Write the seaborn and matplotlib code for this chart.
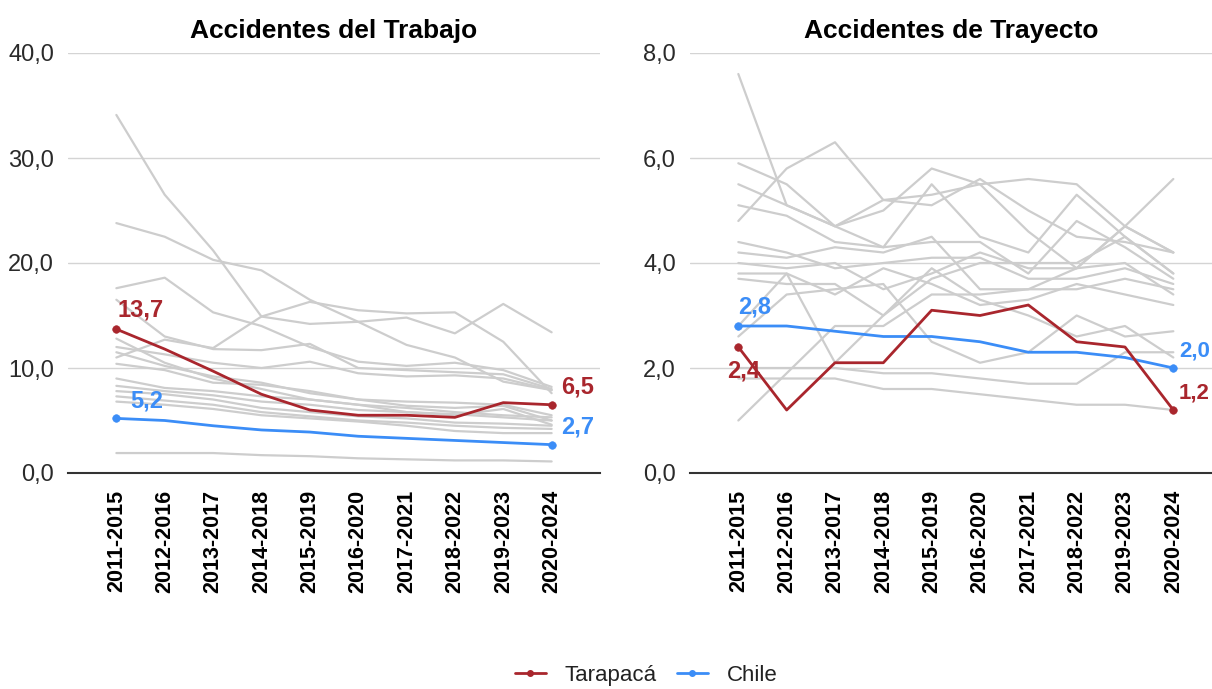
import numpy as np
import pandas as pd
import matplotlib
matplotlib.use('Agg')
import matplotlib.pyplot as plt
from matplotlib.lines import Line2D
from matplotlib.ticker import FuncFormatter
import seaborn as sns

sns.set_style('white')
plt.rcParams['font.family'] = ['Liberation Sans', 'DejaVu Sans']
plt.rcParams['text.color'] = '#000000'

periodos = ['2011-2015', '2012-2016', '2013-2017', '2014-2018', '2015-2019',
            '2016-2020', '2017-2021', '2018-2022', '2019-2023', '2020-2024']

# Accidentes del Trabajo
trabajo_tarapaca = [13.7, 11.8, 9.7, 7.5, 6.0, 5.5, 5.5, 5.3, 6.7, 6.5]
trabajo_chile = [5.2, 5.0, 4.5, 4.1, 3.9, 3.5, 3.3, 3.1, 2.9, 2.7]
trabajo_otras = [
    [34.1, 26.5, 21.2, 14.9, 14.2, 14.4, 14.8, 13.3, 16.1, 13.4],
    [23.8, 22.5, 20.3, 19.3, 16.5, 14.4, 12.2, 11.0, 8.7, 7.9],
    [17.6, 18.6, 15.3, 14.0, 12.0, 10.6, 10.2, 10.5, 9.8, 8.2],
    [11.0, 12.7, 11.9, 14.9, 16.3, 15.5, 15.2, 15.3, 12.5, 7.6],
    [16.5, 13.0, 11.8, 11.7, 12.3, 10.0, 9.8, 9.6, 9.4, 8.0],
    [12.0, 11.3, 10.5, 10.0, 10.6, 9.5, 9.2, 9.3, 9.0, 7.9],
    [11.5, 10.2, 9.2, 8.6, 7.6, 7.0, 6.8, 6.7, 6.5, 5.5],
    [10.4, 9.8, 8.6, 8.4, 7.8, 7.0, 6.4, 6.2, 6.4, 5.0],
    [9.0, 8.1, 7.8, 7.3, 7.0, 6.5, 6.2, 5.8, 5.5, 5.3],
    [8.3, 7.8, 7.4, 6.8, 6.5, 6.0, 5.8, 5.6, 5.3, 5.0],
    [7.8, 7.5, 7.0, 6.2, 5.8, 5.4, 5.2, 4.8, 4.7, 4.5],
    [7.3, 6.9, 6.5, 5.8, 5.4, 5.0, 4.8, 4.5, 4.3, 4.2],
    [6.8, 6.5, 6.1, 5.5, 5.2, 4.9, 4.5, 4.0, 3.8, 3.8],
    [12.8, 10.5, 9.0, 8.0, 7.0, 6.5, 5.8, 5.5, 6.1, 4.6],
    [1.9, 1.9, 1.9, 1.7, 1.6, 1.4, 1.3, 1.2, 1.2, 1.1],
]

# Accidentes de Trayecto
trayecto_tarapaca = [2.4, 1.2, 2.1, 2.1, 3.1, 3.0, 3.2, 2.5, 2.4, 1.2]
trayecto_chile = [2.8, 2.8, 2.7, 2.6, 2.6, 2.5, 2.3, 2.3, 2.2, 2.0]
trayecto_otras = [
    [7.6, 5.1, 4.7, 5.2, 5.1, 5.6, 5.0, 4.5, 4.4, 4.2],
    [4.8, 5.8, 6.3, 5.2, 5.3, 5.5, 5.6, 5.5, 4.7, 4.2],
    [5.9, 5.5, 4.7, 5.0, 5.8, 5.5, 4.6, 3.9, 4.7, 4.2],
    [5.5, 5.1, 4.7, 4.3, 5.5, 4.5, 4.2, 5.3, 4.5, 3.8],
    [5.1, 4.9, 4.4, 4.3, 4.4, 4.4, 3.8, 4.8, 4.3, 3.7],
    [4.4, 4.2, 3.9, 4.0, 4.1, 4.1, 3.7, 3.7, 3.9, 3.6],
    [4.2, 4.1, 4.3, 4.2, 4.5, 3.5, 3.5, 3.5, 3.7, 3.5],
    [4.0, 3.9, 4.0, 3.5, 3.8, 4.2, 3.9, 3.9, 4.0, 3.4],
    [3.8, 3.8, 3.4, 3.9, 3.6, 3.2, 3.3, 3.6, 3.4, 3.2],
    [3.7, 3.6, 3.6, 3.0, 3.9, 3.3, 3.0, 2.6, 2.8, 2.2],
    [2.6, 3.4, 3.5, 3.6, 2.5, 2.1, 2.3, 3.0, 2.6, 2.7],
    [2.8, 3.8, 2.1, 3.0, 3.7, 4.0, 4.0, 4.0, 4.5, 3.8],
    [1.8, 1.8, 1.8, 1.6, 1.6, 1.5, 1.4, 1.3, 1.3, 1.2],
    [2.0, 2.0, 2.0, 1.9, 1.9, 1.8, 1.7, 1.7, 2.3, 2.3],
    [1.0, 1.9, 2.8, 2.8, 3.4, 3.4, 3.5, 3.9, 4.7, 5.6],
]

rojo = '#A9262D'
azul = '#3B8DF7'
gris = '#CDCDCD'


def a_tabla(series):
    filas = []
    for i, s in enumerate(series):
        for j, v in enumerate(s):
            filas.append({'region': i, 'x': j, 'valor': v})
    return pd.DataFrame(filas)


def coma(v, pos=None):
    return f'{v:.1f}'.replace('.', ',')


fig = plt.figure(figsize=(12.12, 6.89), dpi=100)
ax1 = fig.add_axes([68 / 1212, 216 / 689, 532 / 1212, 420 / 689])
ax2 = fig.add_axes([690 / 1212, 216 / 689, 522 / 1212, 420 / 689])

paneles = [
    (ax1, 'Accidentes del Trabajo', trabajo_otras, trabajo_tarapaca, trabajo_chile, 40, 10, (-1, 10)),
    (ax2, 'Accidentes de Trayecto', trayecto_otras, trayecto_tarapaca, trayecto_chile, 8, 2, (-1, 9.8)),
]

for ax, titulo, otras, tara, chile, ymax, paso, xl in paneles:
    df = a_tabla(otras)
    sns.lineplot(data=df, x='x', y='valor', units='region', estimator=None,
                 color=gris, linewidth=1.6, ax=ax, legend=False)
    for serie, color in [(chile, azul), (tara, rojo)]:
        d = pd.DataFrame({'x': range(len(serie)), 'valor': serie})
        sns.lineplot(data=d, x='x', y='valor', color=color, linewidth=2, ax=ax)
        ext = d.iloc[[0, -1]]
        sns.scatterplot(data=ext, x='x', y='valor', color=color, s=30,
                        edgecolor=color, ax=ax, zorder=5)

    ax.set_xlim(*xl)
    ax.set_ylim(0, ymax)
    ax.set_yticks(np.arange(0, ymax + 0.01, paso))
    ax.yaxis.set_major_formatter(FuncFormatter(coma))
    ax.set_xticks(range(len(periodos)))
    ax.set_xticklabels(periodos, rotation=90, fontweight='bold', fontsize=15.5)
    ax.tick_params(axis='y', labelsize=17, length=0, pad=10, colors='#2a2a2a')
    ax.tick_params(axis='x', length=0, pad=12, colors='#000000')
    ax.grid(axis='y', color='#D4D4D4', linewidth=1)
    ax.set_axisbelow(True)
    for s in ['top', 'right', 'left']:
        ax.spines[s].set_visible(False)
    ax.spines['bottom'].set_color('#333333')
    ax.spines['bottom'].set_linewidth(1.5)
    ax.set_xlabel('')
    ax.set_ylabel('')
    ax.set_title(titulo, fontsize=19, fontweight='bold', pad=11, color='#000000')

# etiquetas de datos
kw = dict(fontsize=17, fontweight='bold')
ax1.annotate(coma(trabajo_tarapaca[0]), (0, trabajo_tarapaca[0]), xytext=(1, 9),
             textcoords='offset points', color=rojo, **kw)
ax1.annotate(coma(trabajo_chile[0]), (0, trabajo_chile[0]), xytext=(10, 8),
             textcoords='offset points', color=azul, **kw)
ax1.annotate(coma(trabajo_tarapaca[-1]), (9, trabajo_tarapaca[-1]), xytext=(7, 8),
             textcoords='offset points', color=rojo, **kw)
ax1.annotate(coma(trabajo_chile[-1]), (9, trabajo_chile[-1]), xytext=(7, 8),
             textcoords='offset points', color=azul, **kw)
ax2.annotate(coma(trayecto_chile[0]), (0, trayecto_chile[0]), xytext=(0, 9),
             textcoords='offset points', color=azul, **kw)
ax2.annotate(coma(trayecto_tarapaca[0]), (0, trayecto_tarapaca[0]), xytext=(-8, -22),
             textcoords='offset points', color=rojo, **kw)
# las etiquetas del borde derecho van algo más pegadas al punto
kw_borde = dict(fontsize=16, fontweight='bold')
ax2.annotate(coma(trayecto_chile[-1]), (9, trayecto_chile[-1]), xytext=(4, 8),
             textcoords='offset points', color=azul, **kw_borde)
ax2.annotate(coma(trayecto_tarapaca[-1]), (9, trayecto_tarapaca[-1]), xytext=(4, 8),
             textcoords='offset points', color=rojo, **kw_borde)

handles = [Line2D([], [], color=rojo, lw=2, marker='o', markersize=4),
           Line2D([], [], color=azul, lw=2, marker='o', markersize=4)]
fig.legend(handles, ['Tarapacá', 'Chile'], loc='center', bbox_to_anchor=(0.533, 0.02),
           ncol=2, frameon=False, fontsize=16, handlelength=1.4, handletextpad=0.85,
           columnspacing=0.9, labelcolor='#222222')

fig.savefig('out.png', dpi=100)
